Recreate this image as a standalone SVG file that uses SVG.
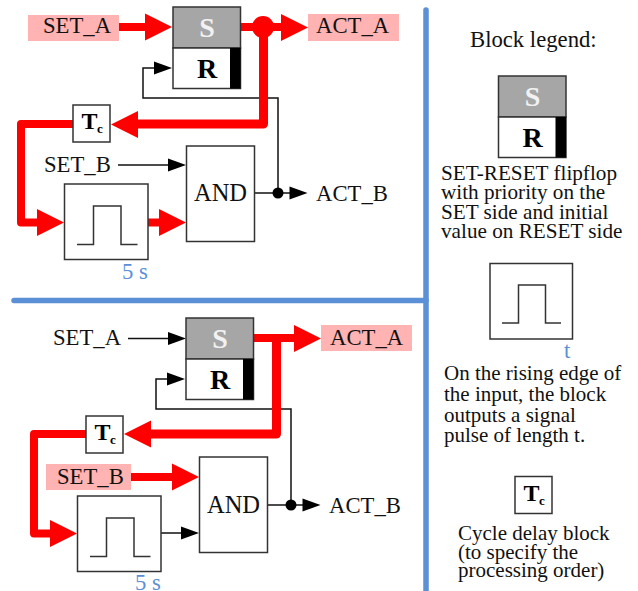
<svg xmlns="http://www.w3.org/2000/svg" width="638" height="591" viewBox="0 0 638 591">
<defs>
<style>
text{font-family:"Liberation Serif","Times New Roman",serif;font-size:22.7px;fill:#111}
.box{fill:#fff;stroke:#333;stroke-width:1.5}
.blk{fill:none;stroke:#333;stroke-width:1.5}
.thin{fill:none;stroke:#111;stroke-width:1.5}
.thick{fill:none;stroke:#f00;stroke-width:8;stroke-linejoin:round}
.hi{fill:#ffb3b3}
.div{fill:none;stroke:#5b8fd6;stroke-width:5.5;stroke-linecap:round}
.s{font-weight:bold;fill:#f2f2f2;font-size:28px;text-anchor:middle}
.r{font-weight:bold;font-size:28px;text-anchor:middle;fill:#000}
.t{font-weight:bold;font-size:24px;fill:#000}
.c{font-weight:bold;font-size:13px;fill:#000}
.blue{fill:#5b8fd6}
.l1{font-size:21.2px}
.l2{font-size:21px}
.and{font-size:24.5px;text-anchor:middle}
</style>
<g id="sr"><rect x="0" y="0" width="67.5" height="41" fill="#a6a6a6" stroke="#333" stroke-width="1.5"/><rect x="0" y="41" width="67.5" height="40.5" class="box"/><rect x="57" y="41" width="10.500" height="40.5" fill="#000"/><text x="34" y="30" class="s">S</text><text x="34" y="71" class="r">R</text></g>
<g id="pul"><rect x="0" y="0" width="83.5" height="75.5" class="box"/><path d="M12.5 60.5H29V22H56.5V60.5H73" class="blk"/></g>
<g id="tc"><rect x="0" y="0" width="37" height="37" class="box"/><text x="8.5" y="24" class="t">T</text><text x="24" y="28" class="c">c</text></g>
<path id="hb" d="M-27 -13.5L0 0L-27 13.5Z" fill="#f00"/>
<path id="hbl" d="M27 -13.5L0 0L27 13.5Z" fill="#f00"/>
<path id="ht" d="M-18 -6.5L0 0L-18 6.5Z" fill="#000"/>
</defs>

<g id="dividers">
<path class="div" d="M426 10V591"/>
<path class="div" d="M14 300.5H426"/>
</g>

<g id="labels-bg">
<rect class="hi" x="28" y="15" width="91" height="26"/>
<rect class="hi" x="308" y="14" width="91" height="27"/>
<rect class="hi" x="321" y="325" width="91" height="26"/>
<rect class="hi" x="46" y="464" width="85" height="26"/>
</g>

<g id="connectors">
<path class="thin" d="M156 68H143V98H278V193"/>
<path class="thin" d="M254 193H295"/>
<path class="thin" d="M118 165H170"/>
<path class="thick" d="M119 27H150"/>
<use href="#hb" x="172" y="27"/>
<path class="thick" d="M240 27H285"/>
<circle cx="263" cy="27" r="11" fill="#f00"/>
<use href="#hb" x="308" y="27.5"/>
<path class="thick" style="stroke-width:9" d="M263.5 27V124H135"/>
<use href="#hbl" x="111" y="124.5"/>
<path class="thick" d="M73 124H21V222.500H40"/>
<use href="#hb" x="64" y="222.500"/>
<path class="thick" d="M148 222.500H160"/>
<use href="#hb" x="186" y="222.500"/>
<use href="#ht" x="172" y="68"/>
<use href="#ht" x="186" y="165"/>
<circle cx="278" cy="193" r="5.500" fill="#000"/>
<use href="#ht" x="307.500" y="193"/>

<path class="thin" d="M169 379H156V409H291V505"/>
<path class="thin" d="M267 505H308"/>
<path class="thin" d="M128 338.500H170"/>
<path class="thin" d="M161 533H183"/>
<path class="thick" d="M253 338H298"/>
<use href="#hb" x="321" y="338.500"/>
<path class="thick" style="stroke-width:9" d="M276.500 338V434H148"/>
<use href="#hbl" x="124" y="434"/>
<path class="thick" d="M86 434H34V533.500H53"/>
<use href="#hb" x="77" y="533.500"/>
<path class="thick" d="M131 477H175"/>
<use href="#hb" x="199" y="477"/>
<use href="#ht" x="185" y="379"/>
<use href="#ht" x="186" y="338.500"/>
<use href="#ht" x="199" y="533"/>
<circle cx="291" cy="505" r="5.500" fill="#000"/>
<use href="#ht" x="320.500" y="505"/>
</g>

<g id="top-sr"><use href="#sr" x="173" y="7"/></g>
<g id="top-tc"><use href="#tc" x="73" y="105"/></g>
<g id="top-and"><rect x="186.500" y="146" width="68" height="95.500" class="box"/><text x="220.500" y="201" class="and">AND</text></g>
<g id="top-pulse"><use href="#pul" x="64.500" y="184"/><text x="122" y="279" class="blue">5 s</text></g>
<g id="top-labels">
<text x="43" y="33">SET_A</text>
<text x="316" y="33">ACT_A</text>
<text x="44" y="172">SET_B</text>
<text x="316" y="201">ACT_B</text>
</g>

<g id="bot-sr"><use href="#sr" x="186" y="318"/></g>
<g id="bot-tc"><use href="#tc" x="86" y="416"/></g>
<g id="bot-and"><rect x="199.500" y="457" width="68" height="95.500" class="box"/><text x="233.500" y="513" class="and">AND</text></g>
<g id="bot-pulse"><use href="#pul" x="77.500" y="496"/><text x="135" y="590" class="blue">5 s</text></g>
<g id="bot-labels">
<text x="53" y="345">SET_A</text>
<text x="330" y="345">ACT_A</text>
<text x="57" y="484">SET_B</text>
<text x="329" y="513">ACT_B</text>
</g>

<g id="legend-title"><text x="470" y="47">Block legend:</text></g>
<g id="legend-sr"><use href="#sr" x="498.500" y="76"/>
<text class="l1" x="441" y="180">SET-RESET flipflop</text>
<text class="l1" x="441" y="199">with priority on the</text>
<text class="l1" x="441" y="218.500">SET side and initial</text>
<text class="l1" x="441" y="237.500">value on RESET side</text></g>
<g id="legend-pulse"><rect x="490" y="263.500" width="82.500" height="75.500" class="box"/><path d="M502 323H518.500V285H545.500V323H561" class="blk"/>
<text x="564" y="358" class="blue">t</text>
<text class="l2" x="444" y="380">On the rising edge of</text>
<text class="l2" x="444" y="401">the input, the block</text>
<text class="l2" x="444" y="422">outputs a signal</text>
<text class="l2" x="444" y="442">pulse of length t.</text></g>
<g id="legend-tc"><use href="#tc" x="515" y="476.500"/>
<text class="l2" x="458" y="540">Cycle delay block</text>
<text class="l2" x="458" y="559">(to specify the</text>
<text class="l2" x="458" y="577">processing order)</text></g>
</svg>
